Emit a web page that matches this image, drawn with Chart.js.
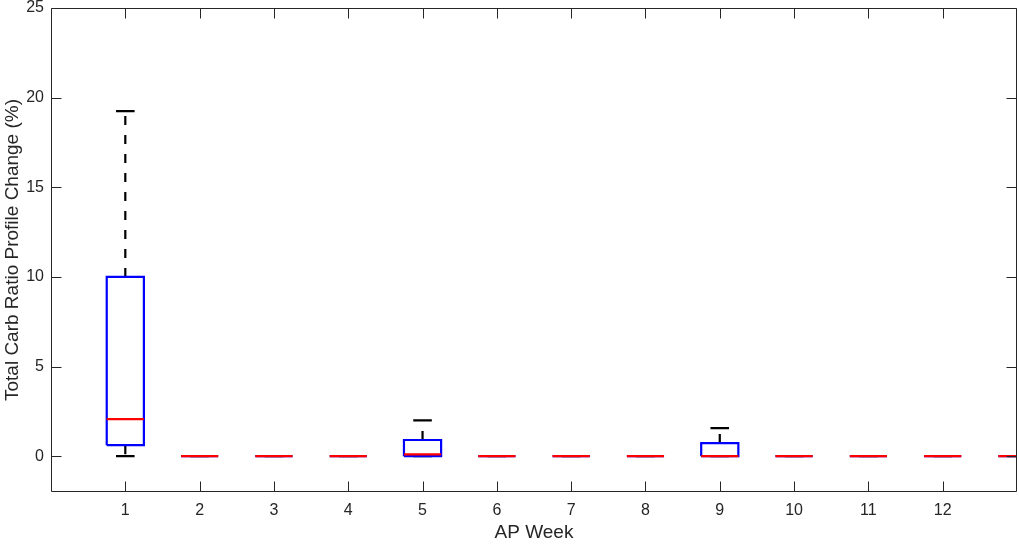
<!DOCTYPE html>
<html>
<head>
<meta charset="utf-8">
<script src="https://cdn.jsdelivr.net/npm/chart.js@4/dist/chart.umd.min.js"></script>
<style>
  html, body { margin: 0; padding: 0; background: #fff; }
  canvas { display: block; }
</style>
</head>
<body>
<canvas id="boxChart" width="1019" height="544"></canvas>
<script>
// box plot stats per AP week (13th group sits on the right edge and is half clipped)
const WEEKS = [1, 2, 3, 4, 5, 6, 7, 8, 9, 10, 11, 12, 13];
const LOWER = [0, 0, 0, 0, 0, 0, 0, 0, 0, 0, 0, 0, 0];
const Q1 = [0.61, 0, 0, 0, 0, 0, 0, 0, 0, 0, 0, 0, 0];
const MEDIAN = [2.06, 0, 0, 0, 0.1, 0, 0, 0, 0, 0, 0, 0, 0];
const Q3 = [10, 0, 0, 0, 0.9, 0, 0, 0, 0.73, 0, 0, 0, 0];
const UPPER = [19.25, 0, 0, 0, 2.0, 0, 0, 0, 1.56, 0, 0, 0, 0];
const X_TICKS = [1, 2, 3, 4, 5, 6, 7, 8, 9, 10, 11, 12];
const Y_TICKS = [0, 5, 10, 15, 20, 25];

const BOX_HALF = 0.25;
const CAP_HALF = 0.125;
const AXIS_COLOR = "#262626";
const FONT = "'Liberation Sans', Arial, Helvetica, sans-serif";

// line segments, separated by gaps
const gap = (x) => ({ x, y: null });
const boxPts = [], medPts = [], whiskPts = [], capPts = [];
WEEKS.forEach((w, i) => {
  boxPts.push(
    { x: w - BOX_HALF, y: Q1[i] }, { x: w + BOX_HALF, y: Q1[i] },
    { x: w + BOX_HALF, y: Q3[i] }, { x: w - BOX_HALF, y: Q3[i] },
    { x: w - BOX_HALF, y: Q1[i] }, gap(w)
  );
  medPts.push({ x: w - BOX_HALF, y: MEDIAN[i] }, { x: w + BOX_HALF, y: MEDIAN[i] }, gap(w));
  // whiskers start at the box so the dash pattern begins there
  whiskPts.push({ x: w, y: Q3[i] }, { x: w, y: UPPER[i] }, gap(w));
  whiskPts.push({ x: w, y: Q1[i] }, { x: w, y: LOWER[i] }, gap(w));
  capPts.push({ x: w - CAP_HALF, y: UPPER[i] }, { x: w + CAP_HALF, y: UPPER[i] }, gap(w));
  capPts.push({ x: w - CAP_HALF, y: LOWER[i] }, { x: w + CAP_HALF, y: LOWER[i] }, gap(w));
});

const segLine = (data, color, extra) => Object.assign({
  type: "line",
  data,
  borderColor: color,
  borderWidth: 2.2,
  pointRadius: 0,
  spanGaps: false,
  fill: false,
  tension: 0,
  clip: 0
}, extra);

// frame with inward ticks on all four sides, like MATLAB "box on"
const frame = {
  id: "frame",
  afterDraw(chart) {
    const { ctx, chartArea: a, scales: { x, y } } = chart;
    const L = Math.round(a.left) + 0.5, R = Math.round(a.right) - 0.5;
    const T = Math.round(a.top) + 0.5, B = Math.round(a.bottom) - 0.5;
    ctx.save();
    ctx.strokeStyle = AXIS_COLOR;
    ctx.lineWidth = 1;
    ctx.beginPath();
    ctx.rect(L, T, R - L, B - T);
    x.ticks.forEach((t) => {
      const px = Math.round(x.getPixelForValue(t.value)) + 0.5;
      ctx.moveTo(px, B); ctx.lineTo(px, B - 10);
      ctx.moveTo(px, T); ctx.lineTo(px, T + 10);
    });
    y.ticks.forEach((t) => {
      const py = Math.round(y.getPixelForValue(t.value)) + 0.5;
      ctx.moveTo(L, py); ctx.lineTo(L + 10, py);
      ctx.moveTo(R, py); ctx.lineTo(R - 10, py);
    });
    ctx.stroke();
    ctx.restore();
  }
};

new Chart(document.getElementById("boxChart"), {
  type: "line",
  data: {
    datasets: [
      segLine(medPts, "#ff0000", { order: 0 }),
      segLine(boxPts, "#0000ff", { order: 1 }),
      segLine(capPts, "#000000", { order: 2 }),
      segLine(whiskPts, "#000000", { order: 3, borderDash: [9, 10], borderCapStyle: "butt" })
    ]
  },
  options: {
    responsive: false,
    devicePixelRatio: 1,
    animation: false,
    layout: { padding: { top: 8, right: 2, left: 0, bottom: 0 } },
    plugins: { legend: { display: false }, tooltip: { enabled: false } },
    scales: {
      x: {
        type: "linear",
        min: 0,
        max: 13,
        afterBuildTicks: (s) => { s.ticks = X_TICKS.map((v) => ({ value: v })); },
        afterFit: (s) => { s.height = 52; s.paddingLeft = 0; s.paddingRight = 0; },
        grid: { display: false, drawTicks: false },
        border: { display: false },
        ticks: { color: AXIS_COLOR, padding: 9, maxRotation: 0, autoSkip: false, font: { family: FONT, size: 16 } },
        title: { display: true, text: "AP Week", color: AXIS_COLOR, padding: { top: 0, bottom: 0 }, font: { family: FONT, size: 19 } }
      },
      y: {
        min: -2,
        max: 25,
        afterBuildTicks: (s) => { s.ticks = Y_TICKS.map((v) => ({ value: v })); },
        afterFit: (s) => { s.width = 51; s.paddingTop = 0; s.paddingBottom = 0; },
        grid: { display: false, drawTicks: false },
        border: { display: false },
        ticks: { color: AXIS_COLOR, padding: 7, font: { family: FONT, size: 16 } },
        title: { display: true, text: "Total Carb Ratio Profile Change (%)", color: AXIS_COLOR, padding: { top: 1, bottom: 0 }, font: { family: FONT, size: 19 } }
      }
    }
  },
  plugins: [frame]
});
</script>
</body>
</html>
